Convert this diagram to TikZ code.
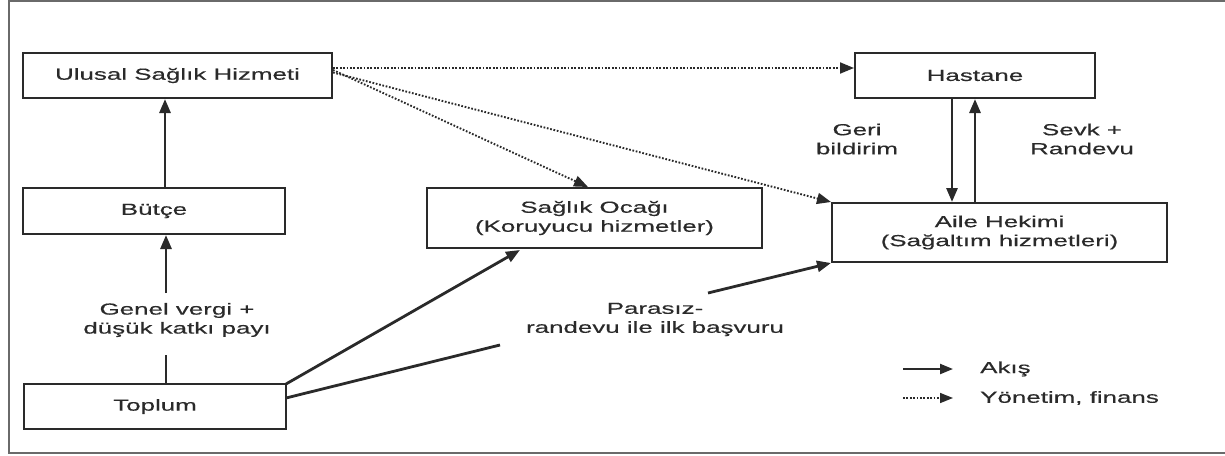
\documentclass[tikz,border=0pt]{standalone}
\usepackage{fontspec}
\setmainfont{Liberation Sans}[FakeStretch=1.62, FakeBold=0.4]
\usetikzlibrary{arrows.meta}
\definecolor{ink}{HTML}{2A2A2A}
\definecolor{frame}{HTML}{6A6A6A}
\begin{document}
\begin{tikzpicture}[x=1pt,y=-1pt,
  font=\fontsize{16}{19}\selectfont,
  every node/.style={text=ink},
  box/.style={draw=ink, line width=2pt, inner sep=0pt, align=center},
  lbl/.style={align=center, inner sep=0pt},
  flow/.style={draw=ink, line width=2.8pt},
  arr/.style={flow, -{Triangle[length=14pt,width=11pt]}},
  dotarr/.style={draw=ink, line width=1.9pt, dash pattern=on 1.7pt off 1.7pt, -{Triangle[length=14pt,width=11pt]}}]
\useasboundingbox (0,0) rectangle (1225,455);
\begin{scope}
\clip (0,0) rectangle (1225,455);
\draw[frame, line width=1.8pt] (1260,1) -- (9,1) -- (9,453) -- (1260,453);
\end{scope}
% boxes
\node[box, minimum width=309pt, minimum height=45pt] (usa) at (177.5,75.5) {Ulusal Sağlık Hizmeti};
\node[box, minimum width=262pt, minimum height=46pt] (butce) at (154,211) {Bütçe};
\node[box, minimum width=262pt, minimum height=45pt] (toplum) at (155,406.5) {Toplum};
\node[box, minimum width=335pt, minimum height=60pt] (ocak) at (594.5,218) {Sağlık Ocağı\\(Koruyucu hizmetler)};
\node[box, minimum width=240pt, minimum height=45pt] (hastane) at (975,75.5) {Hastane};
\node[box, minimum width=335pt, minimum height=59pt] (aile) at (999.5,232.5) {Aile Hekimi\\(Sağaltım hizmetleri)};
% labels
\node[lbl] (gv) at (177,320) {Genel vergi +\\düşük katkı payı};
\node[lbl] (par) at (655,319.5) {Parasız-\\randevu ile ilk başvuru};
\node[lbl] (geri) at (857,139) {Geri\\bildirim};
\node[lbl] (sevk) at (1082,139) {Sevk +\\Randevu};
% break points
\coordinate (gvlo) at (166,355);
\coordinate (gvhi) at (166,293);
\coordinate (tpA) at (286,384);
\coordinate (tpB) at (286,398);
\coordinate (parlo) at (500,345);
\coordinate (parhi) at (708,293);
\coordinate (ocin) at (520,250);
% solid flows
\draw[arr] (butce.north -| 165,0) -- (usa.south -| 165,0);
\draw[flow] (toplum.north -| gvlo) -- (gvlo);
\draw[arr] (gvhi) -- (butce.south -| gvhi);
\draw[arr] (tpA) -- (ocin);
\draw[flow] (tpB) -- (parlo);
\draw[arr] (parhi) -- (aile.south west);
\draw[arr] (hastane.south -| 952,0) -- (aile.north -| 952,0);
\draw[arr] (aile.north -| 975,0) -- (hastane.south -| 975,0);
% dotted management
\draw[dotarr] (usa.east |- 0,68) -- (hastane.west |- 0,68);
\draw[dotarr] (usa.east |- 0,70) -- (ocak.north -| 588,0);
\draw[dotarr] (usa.east |- 0,72.5) -- (aile.north west);
% legend
\coordinate (l1a) at (903,369);
\coordinate (l1b) at (953,369);
\coordinate (l2a) at (903,398);
\coordinate (l2b) at (953,398);
\draw[flow, line width=2.2pt, -{Triangle[length=13pt,width=10pt]}] (l1a) -- (l1b);
\draw[dotarr, line width=1.5pt, -{Triangle[length=13pt,width=10pt]}] (l2a) -- (l2b);
\node[anchor=west, inner sep=0pt] (akis) at (980,369) {Akış};
\node[anchor=west, inner sep=0pt] (yon) at (980,398) {Yönetim, finans};
\end{tikzpicture}
\end{document}
